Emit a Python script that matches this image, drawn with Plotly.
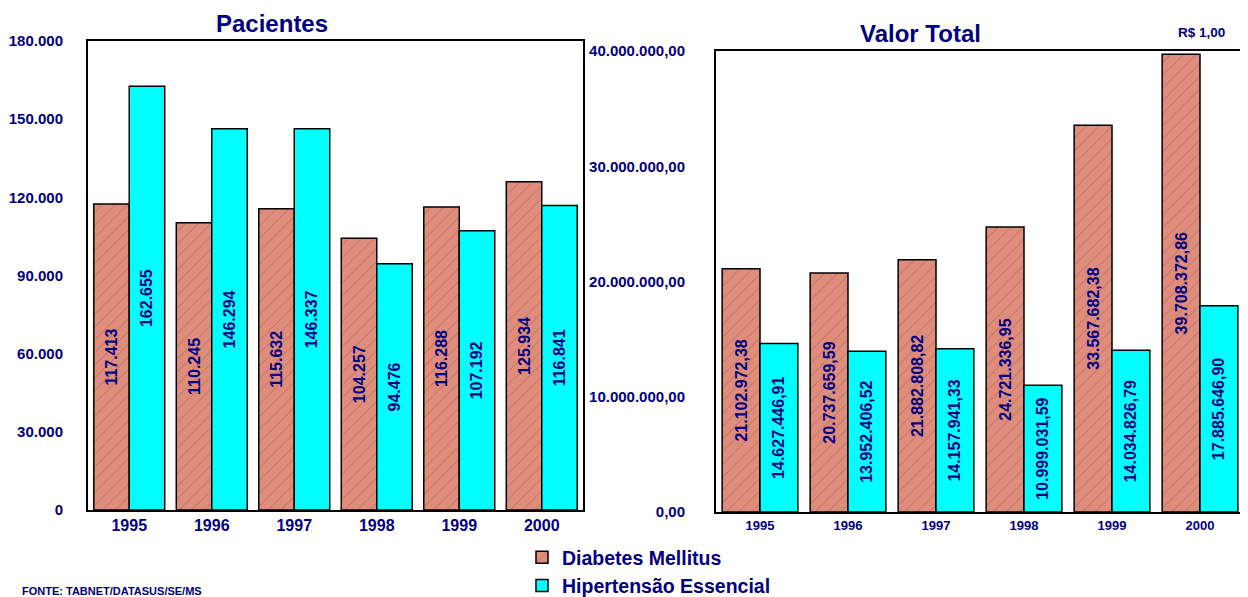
import plotly.graph_objects as go

years = ["1995", "1996", "1997", "1998", "1999", "2000"]
pacientes_diabetes = [117413, 110245, 115632, 104257, 116288, 125934]
pacientes_hipertensao = [162655, 146294, 146337, 94476, 107192, 116841]
valor_diabetes = [21102972.38, 20737659.59, 21882808.82, 24721336.95, 33567682.38, 39708372.86]
valor_hipertensao = [14627446.91, 13952406.52, 14157941.33, 10999031.59, 14034826.79, 17885646.90]

NAVY = "#000080"
FONT = "Liberation Sans, Arial, sans-serif"
OFF = 8                      # default body margin of the page
W, H = 1248 - OFF, 597 - OFF


def px(X):
    return (X - OFF) / W


def py(Y):
    return (597 - Y) / H


def br(v, dec):
    s = f"{v:,.{dec}f}"
    return s.replace(",", "X").replace(".", ",").replace("X", ".")


diab_marker = dict(color="#E08C7B", line=dict(color="black", width=1.5),
                   pattern=dict(shape="/", fgcolor="#6b4a44", size=9, solidity=0.08))
hip_marker = dict(color="#00FFFF", line=dict(color="black", width=1.5))
txt = dict(textposition="inside", insidetextanchor="middle", textangle=-90,
           textfont=dict(family=FONT, size=16, color=NAVY, weight="bold"))

fig = go.Figure()
fig.add_trace(go.Bar(x=years, y=pacientes_diabetes, name="Diabetes Mellitus",
                     marker=diab_marker, text=[br(v, 0) for v in pacientes_diabetes],
                     xaxis="x", yaxis="y", **txt))
fig.add_trace(go.Bar(x=years, y=pacientes_hipertensao, name="Hipertensão Essencial",
                     marker=hip_marker, text=[br(v, 0) for v in pacientes_hipertensao],
                     xaxis="x", yaxis="y", **txt))
fig.add_trace(go.Bar(x=years, y=valor_diabetes, name="Diabetes Mellitus", showlegend=False,
                     marker=diab_marker, text=[br(v, 2) for v in valor_diabetes],
                     xaxis="x2", yaxis="y2", **txt))
fig.add_trace(go.Bar(x=years, y=valor_hipertensao, name="Hipertensão Essencial", showlegend=False,
                     marker=hip_marker, text=[br(v, 2) for v in valor_hipertensao],
                     xaxis="x2", yaxis="y2", **txt))

axis_common = dict(showline=True, mirror=True, linecolor="black", linewidth=2,
                   showgrid=False, zeroline=False, ticks="")

fig.update_layout(
    width=W, height=H,
    margin=dict(l=0, r=0, t=0, b=0, autoexpand=False),
    paper_bgcolor="white", plot_bgcolor="white",
    separators=",.",
    barmode="group", bargap=0.14, bargroupgap=0,
    xaxis=dict(domain=[px(88), px(583)], anchor="y", **axis_common,
               tickfont=dict(family=FONT, size=16, color=NAVY, weight="bold")),
    yaxis=dict(domain=[py(510), py(41)], anchor="x", range=[0, 180000],
               dtick=30000, tickformat=",d", ticklabelstandoff=20, **axis_common,
               tickfont=dict(family=FONT, size=15, color=NAVY, weight="bold")),
    xaxis2=dict(domain=[px(716), px(1244)], anchor="y2", **axis_common,
                tickfont=dict(family=FONT, size=13, color=NAVY, weight="bold")),
    yaxis2=dict(domain=[py(512), py(51)], anchor="x2", range=[0, 40000000],
                dtick=10000000, tickformat=",.2f", ticklabelstandoff=26, **axis_common,
                tickfont=dict(family=FONT, size=15, color=NAVY, weight="bold")),
    legend=dict(x=px(522), y=py(538), xanchor="left", yanchor="top",
                font=dict(family=FONT, size=19.5, color=NAVY, weight="bold"),
                bgcolor="rgba(0,0,0,0)", itemwidth=30, tracegroupgap=0),
    annotations=[
        dict(text="Pacientes", x=px(272), y=py(23), xref="paper", yref="paper",
             xanchor="center", yanchor="middle", showarrow=False,
             font=dict(family=FONT, size=24, color=NAVY, weight="bold")),
        dict(text="Valor Total", x=px(920), y=py(34), xref="paper", yref="paper",
             xanchor="center", yanchor="middle", showarrow=False,
             font=dict(family=FONT, size=24, color=NAVY, weight="bold")),
        dict(text="R$ 1,00", x=px(1201), y=py(32), xref="paper", yref="paper",
             xanchor="center", yanchor="middle", showarrow=False,
             font=dict(family=FONT, size=13.5, color=NAVY, weight="bold")),
        dict(text="FONTE: TABNET/DATASUS/SE/MS", x=px(20), y=py(583), xref="paper",
             yref="paper", xanchor="left", yanchor="top", showarrow=False,
             font=dict(family=FONT, size=11, color=NAVY, weight="bold")),
    ],
)

fig.write_html("out.html")
